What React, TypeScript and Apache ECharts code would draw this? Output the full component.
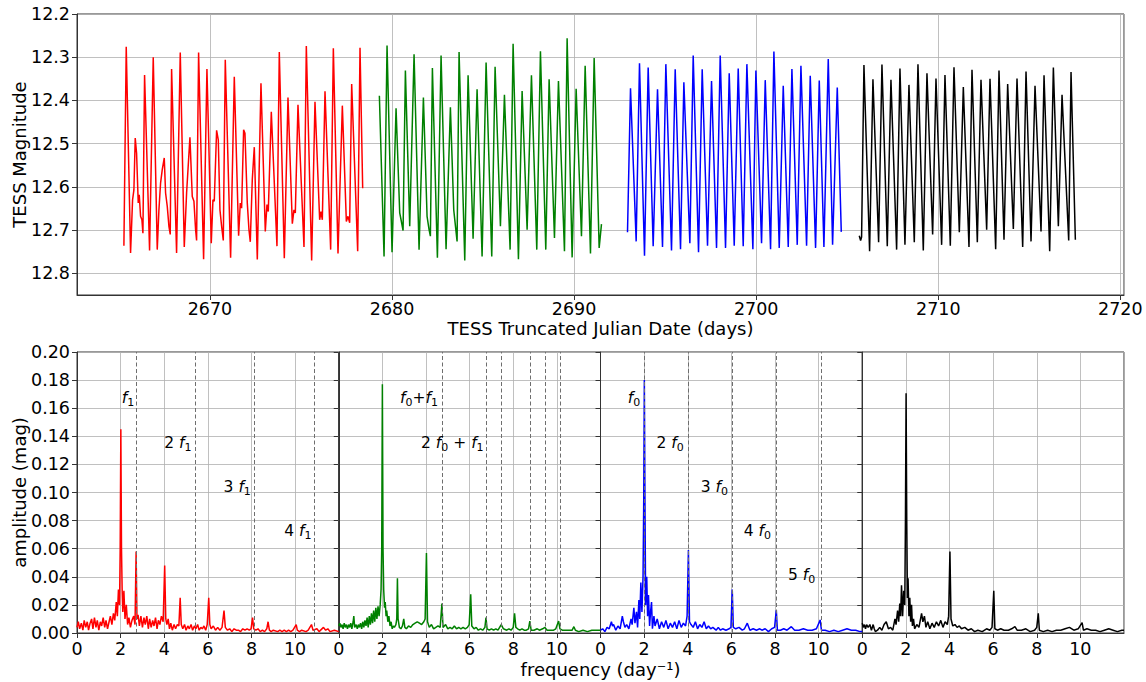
import React, { useEffect, useRef } from 'react';
import * as echarts from 'echarts';

const FONT = "'DejaVu Sans', 'Noto Sans', sans-serif";

// ---------- Light curves: [TESS truncated JD, TESS magnitude] ----------
const LC_RED = [
  [2665.276, 12.736], [2665.404, 12.276], [2665.642, 12.753], [2665.752, 12.630], [2665.825, 12.607], [2665.898, 12.487],
  [2665.972, 12.522], [2666.063, 12.637], [2666.118, 12.618], [2666.191, 12.668], [2666.265, 12.676], [2666.320, 12.707],
  [2666.411, 12.341], [2666.686, 12.747], [2666.887, 12.300], [2667.107, 12.745], [2667.199, 12.653], [2667.290, 12.591],
  [2667.382, 12.560], [2667.492, 12.533], [2667.565, 12.614], [2667.657, 12.645], [2667.748, 12.691], [2667.821, 12.710],
  [2667.895, 12.327], [2668.169, 12.753], [2668.371, 12.289], [2668.591, 12.739], [2668.719, 12.614], [2668.902, 12.485],
  [2669.030, 12.622], [2669.122, 12.633], [2669.213, 12.699], [2669.268, 12.724], [2669.378, 12.289], [2669.653, 12.767],
  [2669.836, 12.327], [2670.074, 12.730], [2670.166, 12.630], [2670.239, 12.633], [2670.367, 12.469], [2670.459, 12.491],
  [2670.550, 12.653], [2670.642, 12.691], [2670.734, 12.724], [2670.843, 12.306], [2671.136, 12.764], [2671.338, 12.345],
  [2671.576, 12.713], [2671.668, 12.637], [2671.741, 12.649], [2671.851, 12.468], [2671.924, 12.476], [2672.052, 12.637],
  [2672.144, 12.699], [2672.217, 12.727], [2672.327, 12.583], [2672.437, 12.508], [2672.602, 12.768], [2672.803, 12.360],
  [2673.041, 12.703], [2673.133, 12.641], [2673.206, 12.657], [2673.371, 12.426], [2673.682, 12.737], [2673.810, 12.288],
  [2674.085, 12.765], [2674.287, 12.393], [2674.525, 12.685], [2674.616, 12.653], [2674.690, 12.660], [2674.836, 12.410],
  [2675.166, 12.739], [2675.294, 12.274], [2675.587, 12.770], [2675.770, 12.403], [2676.027, 12.676], [2676.100, 12.657],
  [2676.173, 12.676], [2676.320, 12.379], [2676.631, 12.745], [2676.778, 12.279], [2677.034, 12.754], [2677.272, 12.412],
  [2677.492, 12.680], [2677.583, 12.668], [2677.675, 12.683], [2677.785, 12.362], [2678.115, 12.749], [2678.243, 12.278],
  [2678.389, 12.603],
];

const LC_GREEN = [
  [2679.306, 12.389], [2679.563, 12.761], [2679.727, 12.273], [2680.002, 12.751], [2680.222, 12.418], [2680.423, 12.660],
  [2680.515, 12.680], [2680.607, 12.701], [2680.735, 12.331], [2680.973, 12.691], [2681.211, 12.293], [2681.486, 12.745],
  [2681.724, 12.393], [2681.925, 12.668], [2682.035, 12.699], [2682.108, 12.714], [2682.218, 12.325], [2682.493, 12.764],
  [2682.694, 12.296], [2682.969, 12.744], [2683.207, 12.416], [2683.390, 12.653], [2683.574, 12.726], [2683.683, 12.288],
  [2683.995, 12.770], [2684.178, 12.342], [2684.453, 12.720], [2684.672, 12.374], [2684.947, 12.761], [2685.167, 12.312],
  [2685.478, 12.761], [2685.661, 12.322], [2685.954, 12.691], [2686.174, 12.387], [2686.486, 12.745], [2686.650, 12.269],
  [2686.943, 12.767], [2687.145, 12.378], [2687.420, 12.699], [2687.658, 12.342], [2687.951, 12.745], [2688.152, 12.286],
  [2688.445, 12.745], [2688.628, 12.351], [2688.922, 12.718], [2689.141, 12.355], [2689.471, 12.749], [2689.617, 12.256],
  [2689.892, 12.763], [2690.112, 12.373], [2690.405, 12.714], [2690.607, 12.320], [2690.900, 12.754], [2691.101, 12.302],
  [2691.376, 12.741], [2691.504, 12.686],
];

const LC_BLUE = [
  [2692.933, 12.705], [2693.098, 12.372], [2693.409, 12.726], [2693.592, 12.314], [2693.867, 12.759], [2694.068, 12.324],
  [2694.343, 12.737], [2694.581, 12.374], [2694.856, 12.739], [2695.039, 12.316], [2695.350, 12.747], [2695.552, 12.328],
  [2695.845, 12.744], [2696.028, 12.358], [2696.358, 12.730], [2696.541, 12.296], [2696.834, 12.751], [2697.035, 12.328],
  [2697.328, 12.736], [2697.548, 12.355], [2697.823, 12.741], [2698.024, 12.296], [2698.317, 12.741], [2698.519, 12.337],
  [2698.794, 12.736], [2699.013, 12.326], [2699.288, 12.737], [2699.489, 12.316], [2699.819, 12.744], [2699.984, 12.331],
  [2700.295, 12.730], [2700.497, 12.353], [2700.790, 12.744], [2700.973, 12.287], [2701.266, 12.741], [2701.486, 12.366],
  [2701.761, 12.739], [2701.962, 12.327], [2702.255, 12.734], [2702.457, 12.320], [2702.768, 12.736], [2702.969, 12.343],
  [2703.262, 12.741], [2703.464, 12.354], [2703.720, 12.739], [2703.958, 12.304], [2704.196, 12.734], [2704.453, 12.370],
  [2704.673, 12.704],
];

const LC_BLACK = [
  [2705.661, 12.713], [2705.735, 12.724], [2705.789, 12.716], [2705.918, 12.318], [2706.229, 12.749], [2706.412, 12.351],
  [2706.724, 12.728], [2706.907, 12.317], [2707.200, 12.737], [2707.401, 12.352], [2707.713, 12.745], [2707.896, 12.326],
  [2708.170, 12.734], [2708.390, 12.364], [2708.683, 12.728], [2708.885, 12.316], [2709.178, 12.747], [2709.379, 12.337],
  [2709.691, 12.710], [2709.874, 12.349], [2710.185, 12.734], [2710.368, 12.341], [2710.661, 12.736], [2710.863, 12.323],
  [2711.156, 12.705], [2711.376, 12.369], [2711.687, 12.739], [2711.852, 12.329], [2712.145, 12.728], [2712.346, 12.352],
  [2712.658, 12.699], [2712.841, 12.350], [2713.152, 12.744], [2713.335, 12.331], [2713.610, 12.722], [2713.811, 12.362],
  [2714.123, 12.697], [2714.324, 12.349], [2714.636, 12.739], [2714.819, 12.333], [2715.094, 12.726], [2715.313, 12.366],
  [2715.643, 12.703], [2715.808, 12.342], [2716.119, 12.749], [2716.321, 12.324], [2716.595, 12.691], [2716.797, 12.387],
  [2717.163, 12.724], [2717.291, 12.334], [2717.529, 12.722],
];

// ---------- Amplitude spectra: [frequency (1/day), amplitude (mag)] ----------
const SPEC_RED = [
  [0, 0.004], [0.06, 0.008], [0.12, 0.003], [0.2, 0.007], [0.27, 0.002], [0.33, 0.009], [0.4, 0.004], [0.47, 0.008],
  [0.53, 0.002], [0.6, 0.007], [0.67, 0.01], [0.73, 0.003], [0.8, 0.011], [0.87, 0.004], [0.93, 0.009], [1.0, 0.002],
  [1.07, 0.008], [1.13, 0.005], [1.2, 0.011], [1.27, 0.004], [1.33, 0.009], [1.4, 0.003], [1.47, 0.008], [1.53, 0.012],
  [1.6, 0.006], [1.67, 0.014], [1.73, 0.009], [1.8, 0.022], [1.85, 0.012], [1.9, 0.031], [1.95, 0.02], [1.98, 0.06],
  [2.01, 0.145], [2.04, 0.06], [2.07, 0.031], [2.1, 0.015], [2.15, 0.03], [2.2, 0.01], [2.26, 0.02], [2.32, 0.006],
  [2.38, 0.011], [2.45, 0.004], [2.52, 0.009], [2.6, 0.012], [2.66, 0.006], [2.71, 0.058], [2.75, 0.01], [2.8, 0.013],
  [2.86, 0.005], [2.93, 0.012], [3.0, 0.004], [3.07, 0.011], [3.13, 0.006], [3.2, 0.012], [3.27, 0.003], [3.33, 0.01],
  [3.4, 0.004], [3.47, 0.009], [3.53, 0.005], [3.6, 0.011], [3.67, 0.003], [3.73, 0.009], [3.8, 0.006], [3.87, 0.012],
  [3.95, 0.008], [4.02, 0.048], [4.07, 0.01], [4.12, 0.006], [4.18, 0.01], [4.24, 0.003], [4.3, 0.007], [4.37, 0.002],
  [4.45, 0.006], [4.52, 0.003], [4.6, 0.006], [4.67, 0.005], [4.73, 0.025], [4.78, 0.006], [4.85, 0.003], [4.93, 0.006],
  [5.0, 0.002], [5.08, 0.005], [5.15, 0.003], [5.23, 0.006], [5.3, 0.002], [5.38, 0.005], [5.45, 0.003], [5.53, 0.006],
  [5.6, 0.002], [5.68, 0.004], [5.75, 0.003], [5.82, 0.005], [5.9, 0.002], [5.97, 0.006], [6.04, 0.025], [6.09, 0.006],
  [6.15, 0.003], [6.25, 0.005], [6.35, 0.002], [6.45, 0.004], [6.55, 0.002], [6.65, 0.004], [6.74, 0.016], [6.8, 0.004],
  [6.9, 0.002], [7.0, 0.003], [7.1, 0.001], [7.2, 0.003], [7.3, 0.002], [7.4, 0.002], [7.5, 0.001], [7.6, 0.003],
  [7.7, 0.002], [7.8, 0.003], [7.9, 0.002], [7.98, 0.003], [8.05, 0.011], [8.1, 0.003], [8.2, 0.002], [8.3, 0.003],
  [8.4, 0.001], [8.5, 0.002], [8.6, 0.001], [8.7, 0.003], [8.76, 0.008], [8.82, 0.002], [8.9, 0.001], [9.0, 0.002],
  [9.2, 0.001], [9.3, 0.002], [9.4, 0.001], [9.5, 0.002], [9.6, 0.001], [9.7, 0.002], [9.8, 0.001], [9.9, 0.002],
  [10.05, 0.006], [10.1, 0.002], [10.2, 0.001], [10.3, 0.002], [10.5, 0.001], [10.6, 0.002], [10.75, 0.006], [10.82, 0.002],
  [11.0, 0.003], [11.1, 0.001], [11.3, 0.004], [11.4, 0.002], [11.5, 0.003], [11.6, 0.001], [11.8, 0.002], [12.0, 0.001],
];

const SPEC_GREEN = [
  [0, 0.005], [0.05, 0.007], [0.1, 0.004], [0.15, 0.006], [0.2, 0.003], [0.25, 0.007], [0.3, 0.004], [0.35, 0.006],
  [0.4, 0.003], [0.45, 0.006], [0.5, 0.004], [0.55, 0.007], [0.6, 0.003], [0.66, 0.008], [0.69, 0.012], [0.73, 0.004],
  [0.8, 0.006], [0.85, 0.003], [0.9, 0.006], [0.95, 0.004], [1.0, 0.007], [1.05, 0.003], [1.1, 0.008], [1.15, 0.004],
  [1.2, 0.009], [1.25, 0.005], [1.3, 0.011], [1.35, 0.004], [1.4, 0.012], [1.45, 0.006], [1.5, 0.014], [1.55, 0.007],
  [1.6, 0.016], [1.65, 0.008], [1.7, 0.018], [1.75, 0.01], [1.8, 0.019], [1.85, 0.012], [1.9, 0.02], [1.94, 0.031],
  [1.97, 0.06], [2.0, 0.177], [2.03, 0.06], [2.06, 0.031], [2.1, 0.018], [2.13, 0.022], [2.17, 0.012], [2.2, 0.016],
  [2.25, 0.008], [2.3, 0.012], [2.35, 0.005], [2.4, 0.008], [2.45, 0.003], [2.5, 0.005], [2.55, 0.004], [2.62, 0.006],
  [2.66, 0.01], [2.69, 0.039], [2.72, 0.01], [2.78, 0.004], [2.85, 0.003], [2.92, 0.005], [2.98, 0.01], [3.03, 0.004],
  [3.1, 0.003], [3.2, 0.005], [3.3, 0.004], [3.4, 0.006], [3.5, 0.007], [3.6, 0.008], [3.7, 0.007], [3.8, 0.006],
  [3.9, 0.008], [3.96, 0.01], [4.02, 0.057], [4.07, 0.008], [4.15, 0.004], [4.25, 0.006], [4.35, 0.003], [4.45, 0.004],
  [4.55, 0.005], [4.65, 0.004], [4.73, 0.021], [4.78, 0.004], [4.9, 0.006], [5.0, 0.003], [5.1, 0.004], [5.2, 0.003],
  [5.3, 0.005], [5.4, 0.003], [5.5, 0.004], [5.6, 0.003], [5.7, 0.004], [5.8, 0.003], [5.9, 0.004], [5.98, 0.006],
  [6.05, 0.0275], [6.1, 0.005], [6.2, 0.003], [6.3, 0.004], [6.4, 0.002], [6.5, 0.003], [6.6, 0.002], [6.7, 0.004],
  [6.75, 0.011], [6.8, 0.003], [6.9, 0.002], [7.0, 0.003], [7.1, 0.002], [7.2, 0.003], [7.3, 0.002], [7.45, 0.006],
  [7.55, 0.003], [7.7, 0.002], [7.8, 0.003], [7.9, 0.002], [8.0, 0.004], [8.06, 0.014], [8.12, 0.004], [8.2, 0.003],
  [8.3, 0.002], [8.4, 0.003], [8.5, 0.002], [8.6, 0.002], [8.7, 0.003], [8.76, 0.0085], [8.82, 0.002], [8.95, 0.002],
  [9.1, 0.003], [9.2, 0.002], [9.35, 0.003], [9.45, 0.004], [9.55, 0.002], [9.7, 0.002], [9.85, 0.002], [9.95, 0.003],
  [10.08, 0.0085], [10.14, 0.003], [10.25, 0.002], [10.4, 0.002], [10.55, 0.002], [10.7, 0.002], [10.78, 0.0045],
  [10.85, 0.002], [11.0, 0.001], [11.2, 0.002], [11.4, 0.001], [11.6, 0.002], [11.8, 0.002], [12.0, 0.002],
];

const SPEC_BLUE = [
  [0, 0.002], [0.1, 0.003], [0.2, 0.001], [0.3, 0.004], [0.4, 0.003], [0.5, 0.008], [0.55, 0.005], [0.6, 0.006],
  [0.7, 0.002], [0.8, 0.005], [0.9, 0.003], [1.0, 0.012], [1.05, 0.008], [1.12, 0.004], [1.2, 0.006], [1.3, 0.003],
  [1.4, 0.01], [1.45, 0.006], [1.53, 0.018], [1.58, 0.007], [1.65, 0.015], [1.7, 0.004], [1.76, 0.0235], [1.8, 0.01],
  [1.85, 0.036], [1.9, 0.015], [1.95, 0.04], [1.98, 0.09], [2.01, 0.18], [2.04, 0.09], [2.07, 0.02], [2.12, 0.04],
  [2.16, 0.012], [2.2, 0.027], [2.25, 0.005], [2.3, 0.016], [2.34, 0.022], [2.38, 0.003], [2.45, 0.012], [2.5, 0.005],
  [2.6, 0.01], [2.7, 0.003], [2.8, 0.008], [2.9, 0.004], [3.0, 0.009], [3.1, 0.003], [3.2, 0.007], [3.3, 0.004],
  [3.4, 0.008], [3.5, 0.003], [3.6, 0.009], [3.7, 0.004], [3.8, 0.007], [3.9, 0.005], [3.97, 0.012], [4.03, 0.059],
  [4.08, 0.008], [4.15, 0.006], [4.25, 0.004], [4.35, 0.008], [4.45, 0.003], [4.55, 0.006], [4.65, 0.004], [4.75, 0.008],
  [4.85, 0.003], [4.95, 0.005], [5.05, 0.003], [5.15, 0.004], [5.3, 0.002], [5.4, 0.004], [5.5, 0.002], [5.6, 0.003],
  [5.75, 0.002], [5.9, 0.003], [5.98, 0.004], [6.04, 0.031], [6.09, 0.004], [6.2, 0.003], [6.35, 0.004], [6.5, 0.002],
  [6.6, 0.003], [6.73, 0.007], [6.85, 0.002], [7.0, 0.003], [7.15, 0.002], [7.3, 0.003], [7.4, 0.002], [7.55, 0.003],
  [7.7, 0.001], [7.85, 0.003], [7.98, 0.004], [8.06, 0.0164], [8.11, 0.002], [8.25, 0.002], [8.4, 0.003], [8.55, 0.002],
  [8.75, 0.0045], [8.9, 0.002], [9.1, 0.002], [9.3, 0.003], [9.5, 0.002], [9.7, 0.002], [9.9, 0.003], [10.07, 0.0093],
  [10.13, 0.002], [10.3, 0.002], [10.5, 0.001], [10.7, 0.002], [10.9, 0.001], [11.1, 0.002], [11.3, 0.003], [11.5, 0.002],
  [11.7, 0.002], [11.9, 0.001], [12.0, 0.001],
];

const SPEC_BLACK = [
  [0, 0.007], [0.05, 0.004], [0.1, 0.006], [0.15, 0.003], [0.2, 0.006], [0.27, 0.004], [0.35, 0.006], [0.42, 0.002],
  [0.5, 0.006], [0.55, 0.003], [0.6, 0.001], [0.7, 0.002], [0.8, 0.004], [0.9, 0.002], [1.0, 0.006], [1.1, 0.008],
  [1.2, 0.003], [1.3, 0.004], [1.4, 0.002], [1.5, 0.01], [1.55, 0.006], [1.62, 0.016], [1.67, 0.008], [1.72, 0.021],
  [1.76, 0.012], [1.8, 0.034], [1.85, 0.012], [1.9, 0.03], [1.95, 0.02], [1.98, 0.08], [2.01, 0.1706], [2.04, 0.08],
  [2.07, 0.025], [2.1, 0.039], [2.14, 0.012], [2.18, 0.025], [2.22, 0.008], [2.26, 0.02], [2.3, 0.005], [2.35, 0.01],
  [2.4, 0.003], [2.5, 0.006], [2.6, 0.004], [2.72, 0.014], [2.78, 0.008], [2.85, 0.012], [2.92, 0.004], [3.0, 0.008],
  [3.1, 0.003], [3.2, 0.007], [3.3, 0.004], [3.4, 0.008], [3.5, 0.005], [3.6, 0.009], [3.7, 0.004], [3.8, 0.008],
  [3.9, 0.006], [3.96, 0.012], [4.02, 0.058], [4.07, 0.01], [4.15, 0.005], [4.25, 0.006], [4.35, 0.004], [4.45, 0.005],
  [4.55, 0.003], [4.7, 0.004], [4.85, 0.002], [5.0, 0.003], [5.15, 0.001], [5.3, 0.002], [5.5, 0.001], [5.7, 0.003],
  [5.85, 0.002], [5.95, 0.004], [6.03, 0.03], [6.08, 0.003], [6.2, 0.002], [6.35, 0.003], [6.5, 0.002], [6.7, 0.002],
  [6.85, 0.003], [7.0, 0.0045], [7.1, 0.002], [7.3, 0.002], [7.5, 0.003], [7.7, 0.001], [7.9, 0.002], [8.0, 0.004],
  [8.07, 0.014], [8.12, 0.002], [8.3, 0.001], [8.5, 0.002], [8.7, 0.001], [8.9, 0.002], [9.1, 0.002], [9.3, 0.003],
  [9.5, 0.004], [9.7, 0.002], [9.9, 0.003], [10.08, 0.0074], [10.14, 0.002], [10.3, 0.003], [10.5, 0.002], [10.7, 0.002],
  [10.9, 0.001], [11.1, 0.002], [11.3, 0.003], [11.5, 0.002], [11.7, 0.001], [11.9, 0.002], [12.0, 0.002],
];

// ---------- Frequency markers (dashed lines) ----------
const DASH_RED = [2.715, 5.43, 8.145, 10.86];
const DASH_GREEN = [4.735, 6.755, 7.45, 8.775, 9.47, 10.165];
const DASH_BLUE = [2.02, 4.04, 6.06, 8.08, 10.1];

// ---------- Annotations: [text, frequency (right edge), amplitude] ----------
const LABELS_RED = [['f_1', 2.62, 0.167], ['2 f_1', 5.25, 0.1355], ['3 f_1', 7.97, 0.104], ['4 f_1', 10.75, 0.0728]];
const LABELS_GREEN = [['f_0+f_1', 4.55, 0.167], ['2 f_0 + f_1', 6.64, 0.1355]];
const LABELS_BLUE = [['f_0', 1.82, 0.167], ['2 f_0', 3.82, 0.1355], ['3 f_0', 5.84, 0.104], ['4 f_0', 7.82, 0.0728], ['5 f_0', 9.84, 0.0413]];

const COLORS = ['#ff0000', '#008000', '#0000ff', '#000000'];
const LIGHT_CURVES = [LC_RED, LC_GREEN, LC_BLUE, LC_BLACK];
const SPECTRA = [SPEC_RED, SPEC_GREEN, SPEC_BLUE, SPEC_BLACK];
const DASHES = [DASH_RED, DASH_GREEN, DASH_BLUE, []];
const LABELS = [LABELS_RED, LABELS_GREEN, LABELS_BLUE, []];

function toRich(s: string) {
  return s
    .split(/(f_\d)/)
    .filter((p) => p.length > 0)
    .map((p) => {
      const m = p.match(/^f_(\d)$/);
      return m ? `{i|f}{s|${m[1]}}` : `{n|${p}}`;
    })
    .join('');
}

const RICH = {
  n: { fontSize: 15.5, fontFamily: FONT, color: '#000', lineHeight: 20, verticalAlign: 'middle', opacity: 1 },
  i: { fontSize: 15.5, fontFamily: FONT, fontStyle: 'italic', color: '#000', lineHeight: 20, verticalAlign: 'middle', opacity: 1 },
  s: { fontSize: 11, fontFamily: FONT, color: '#000', lineHeight: 10, verticalAlign: 'bottom', opacity: 1 },
};

const SPINE = '#333';
const GRIDLINE = { show: true, lineStyle: { color: '#b0b0b0', width: 0.8 } };
const TICK = { show: true, length: 5, lineStyle: { color: SPINE, width: 1 } };
const TICK_FONT = 17.5;
const NAME_FONT = 18;
const LINE_W = 1.5;

const PANEL_LEFT = 77;
const PANEL_W = 261.75;

export default function App() {
  const ref = useRef<HTMLDivElement>(null);

  useEffect(() => {
    if (!ref.current) return;
    const chart = echarts.init(ref.current, undefined, { renderer: 'svg' });

    const baseGrid = { show: true, borderColor: SPINE, borderWidth: 1, containLabel: false, outerBoundsMode: 'none' };
    const grids: any[] = [{ ...baseGrid, left: 77, top: 14, width: 1047, height: 281 }];
    for (let k = 0; k < 4; k++) {
      grids.push({ ...baseGrid, left: PANEL_LEFT + k * PANEL_W, top: 352, width: PANEL_W, height: 281 });
    }

    const nameStyle = { fontSize: NAME_FONT, fontFamily: FONT, color: '#000' };

    const xAxes: any[] = [
      {
        type: 'value', gridIndex: 0, min: 2662.7, max: 2720.2, splitNumber: 5,
        axisLine: { show: true, lineStyle: { color: SPINE } },
        axisTick: TICK, splitLine: GRIDLINE,
        axisLabel: {
          formatter: (v: number) => String(v), showMinLabel: false, showMaxLabel: false,
          fontSize: TICK_FONT, fontFamily: FONT, color: '#000', margin: 5,
        },
        name: 'TESS Truncated Julian Date (days)', nameLocation: 'middle', nameGap: 24, nameMoveOverlap: false,
        nameTextStyle: nameStyle,
      },
    ];
    const yAxes: any[] = [
      {
        type: 'value', gridIndex: 0, inverse: true, min: 12.2, max: 12.85, interval: 0.1,
        axisLine: { show: true, lineStyle: { color: SPINE } },
        axisTick: TICK, splitLine: GRIDLINE,
        axisLabel: {
          formatter: (v: number) => v.toFixed(1), showMaxLabel: false,
          fontSize: TICK_FONT, fontFamily: FONT, color: '#000', margin: 7,
        },
        name: 'TESS Magnitude', nameLocation: 'middle', nameRotate: 90, nameGap: 49, nameMoveOverlap: false,
        nameTextStyle: nameStyle,
      },
    ];
    for (let k = 0; k < 4; k++) {
      xAxes.push({
        type: 'value', gridIndex: k + 1, min: 0, max: 12, interval: 2,
        axisLine: { show: true, lineStyle: { color: SPINE } },
        axisTick: TICK, splitLine: GRIDLINE,
        axisLabel: {
          formatter: (v: number) => String(v), showMaxLabel: false,
          fontSize: TICK_FONT, fontFamily: FONT, color: '#000', margin: 7,
        },
        ...(k === 1
          ? {
              name: 'frequency (day⁻¹)', nameLocation: 'middle', nameGap: 27, nameMoveOverlap: false,
              nameTextStyle: { ...nameStyle, padding: [0, 0, 0, 261.75] },
            }
          : {}),
      });
      yAxes.push({
        type: 'value', gridIndex: k + 1, min: 0, max: 0.2, interval: 0.02,
        axisLine: { show: true, lineStyle: { color: SPINE } },
        axisTick: TICK, splitLine: GRIDLINE,
        axisLabel: {
          show: k === 0,
          formatter: (v: number) => v.toFixed(2),
          fontSize: TICK_FONT, fontFamily: FONT, color: '#000', margin: 7,
        },
        ...(k === 0
          ? {
              name: 'amplitude (mag)', nameLocation: 'middle', nameRotate: 90, nameGap: 49, nameMoveOverlap: false,
              nameTextStyle: nameStyle,
            }
          : {}),
      });
    }

    const series: any[] = [];
    LIGHT_CURVES.forEach((lc, k) => {
      series.push({
        type: 'line', xAxisIndex: 0, yAxisIndex: 0, data: lc, showSymbol: false, symbol: 'none',
        lineStyle: { color: COLORS[k], width: LINE_W }, color: COLORS[k], silent: true,
      });
    });
    SPECTRA.forEach((sp, k) => {
      series.push({
        type: 'line', xAxisIndex: k + 1, yAxisIndex: k + 1, data: sp, showSymbol: false, symbol: 'none',
        lineStyle: { color: COLORS[k], width: LINE_W }, color: COLORS[k], silent: true, z: 3,
        markLine: DASHES[k].length
          ? {
              silent: true, symbol: ['none', 'none'], label: { show: false },
              lineStyle: { color: '#6e6e6e', width: 1, type: [4, 2.5] },
              data: DASHES[k].map((v) => ({ xAxis: v })),
            }
          : undefined,
      });
      if (LABELS[k].length) {
        series.push({
          type: 'scatter', xAxisIndex: k + 1, yAxisIndex: k + 1, symbolSize: 0, silent: true,
          itemStyle: { color: '#000', opacity: 1 },
          data: LABELS[k].map(([t, x, y]) => ({ name: t as string, value: [x, y] })),
          label: {
            show: true, position: 'left', distance: 0, color: '#000', opacity: 1,
            formatter: (p: any) => toRich(p.name), rich: RICH,
          },
          z: 5,
        });
      }
    });

    chart.setOption({
      animation: false,
      backgroundColor: '#fff',
      grid: grids,
      xAxis: xAxes,
      yAxis: yAxes,
      series,
    });

    return () => chart.dispose();
  }, []);

  return <div ref={ref} style={{ position: 'fixed', left: 0, top: 0, width: 1146, height: 682 }} />;
}
